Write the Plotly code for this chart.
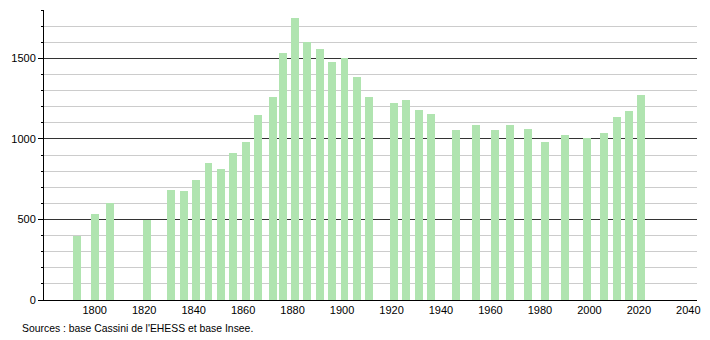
import plotly.graph_objects as go

years = [1793, 1800, 1806, 1821, 1831, 1836, 1841, 1846, 1851, 1856, 1861, 1866,
         1872, 1876, 1881, 1886, 1891, 1896, 1901, 1906, 1911, 1921, 1926, 1931,
         1936, 1946, 1954, 1962, 1968, 1975, 1982, 1990, 1999, 2006, 2011, 2016, 2021]
population = [400, 531, 600, 494, 681, 675, 744, 850, 812, 912, 981, 1150,
              1262, 1535, 1750, 1603, 1560, 1480, 1504, 1383, 1260, 1225, 1244, 1180,
              1154, 1054, 1087, 1056, 1087, 1062, 980, 1025, 1004, 1037, 1137, 1175, 1275]

x_ticks = [1800, 1820, 1840, 1860, 1880, 1900, 1920, 1940, 1960, 1980, 2000, 2020, 2040]
y_ticks = [0, 500, 1000, 1500]
source_text = "Sources : base Cassini de l'EHESS et base Insee."

fig = go.Figure()
fig.add_trace(go.Bar(
    x=years, y=population, width=3.2,
    marker=dict(color="#b0e4b0", line=dict(width=0)),
    hoverinfo="x+y",
))

fig.update_layout(
    width=710, height=340,
    margin=dict(l=44, r=9, t=10, b=40),
    paper_bgcolor="white", plot_bgcolor="white",
    font=dict(family="Liberation Sans, Arial, sans-serif", size=11, color="#000"),
    showlegend=False,
    bargap=0,
    xaxis=dict(
        range=[1779.5, 2043.5],
        tickvals=x_ticks, ticktext=[str(v) for v in x_ticks],
        showgrid=False, zeroline=False,
        showline=True, linecolor="#000", linewidth=1,
        ticks="", ticklen=0,
        tickfont=dict(size=11),
    ),
    yaxis=dict(
        range=[0, 1800],
        tickvals=y_ticks, ticktext=[str(v) for v in y_ticks],
        showgrid=True, gridcolor="#333", gridwidth=1,
        zeroline=False,
        showline=True, linecolor="#000", linewidth=1,
        ticks="outside", ticklen=5, tickcolor="#000",
        tickfont=dict(size=11),
        minor=dict(dtick=100, tick0=0, showgrid=True, gridcolor="#cccccc",
                   gridwidth=1, ticks="outside", ticklen=2, tickcolor="#000"),
    ),
    annotations=[dict(
        text=source_text, xref="paper", yref="paper",
        x=-24/657, y=-21/290, xanchor="left", yanchor="top",
        showarrow=False, font=dict(size=10.4, color="#000"),
    )],
)

fig.write_html("out.html")
